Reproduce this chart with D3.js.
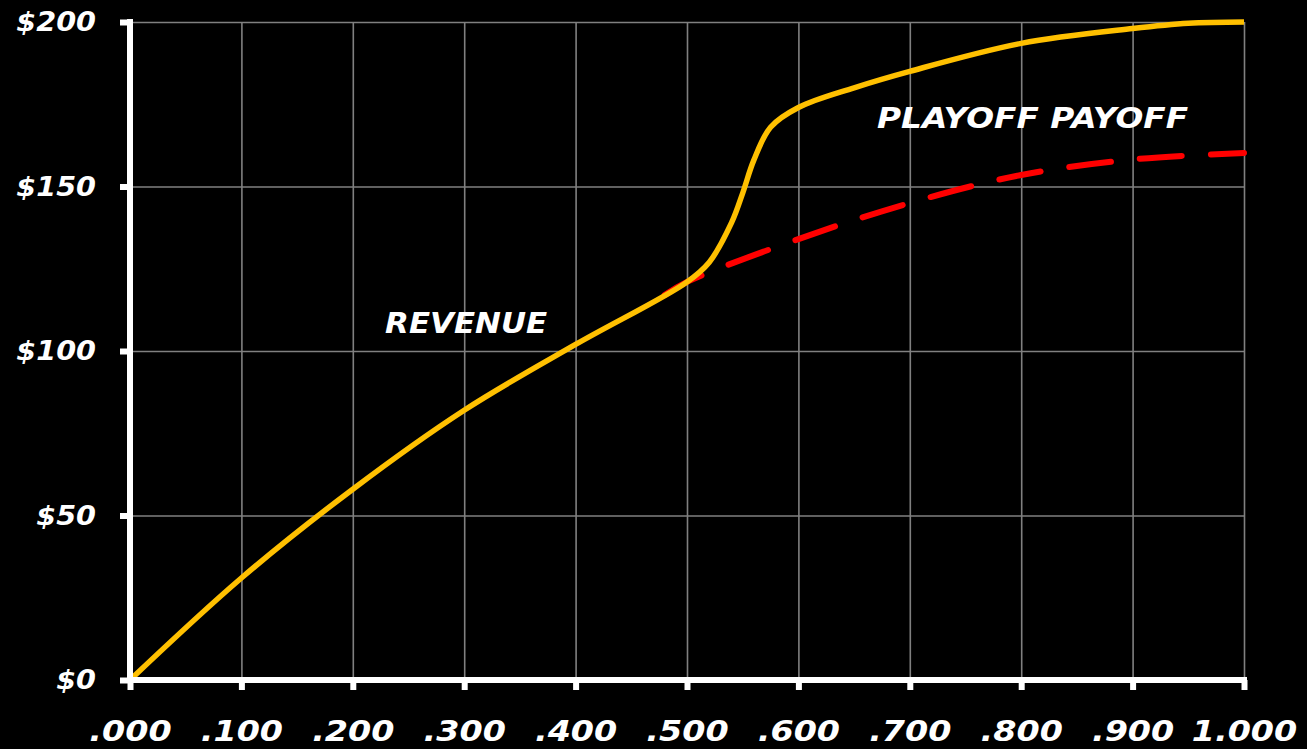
<!DOCTYPE html>
<html>
<head>
<meta charset="utf-8">
<script src="https://cdn.jsdelivr.net/npm/d3@7"></script>
<style>
  html, body { margin: 0; padding: 0; background: #000; }
  svg text { font-family: "DejaVu Sans", sans-serif; font-weight: bold; font-style: italic; fill: #fff; }
</style>
</head>
<body>
<div id="chart"></div>
<script>
// x positions (win pct) and values ($)
const revenueX = [0, 0.1, 0.2, 0.3, 0.4, 0.5, 0.52, 0.54, 0.55, 0.56, 0.575, 0.6, 0.65, 0.7, 0.8, 0.9, 0.95, 1.0];
const revenueY = [0, 31, 58, 82, 102, 121, 127, 139, 148, 158, 168, 174, 180, 185, 193.5, 198, 199.6, 200];

const baseX = [0.48, 0.5, 0.6, 0.7, 0.8, 0.9, 1.0];
const baseY = [117, 121, 134, 145, 153.5, 158.2, 160.2];

const xTicks = [0, 0.1, 0.2, 0.3, 0.4, 0.5, 0.6, 0.7, 0.8, 0.9, 1.0];
const yTicks = [0, 50, 100, 150, 200];

const width = 1307, height = 749;
const margin = {top: 22, right: 63, bottom: 69, left: 130};

const svg = d3.select('#chart')
    .append('svg')
        .attr('width', width)
        .attr('height', height);

const x = d3.scaleLinear()
    .domain([0, 1])
    .range([margin.left, width - margin.right]);

const y = d3.scaleLinear()
    .domain([0, 200])
    .range([height - margin.bottom, margin.top]);

//stretch text to look like the wide heavy face of the original
function widen(sel, f) {
    sel.each(function() {
        let w = this.getComputedTextLength();
        d3.select(this)
            .attr('textLength', w * f)
            .attr('lengthAdjust', 'spacingAndGlyphs');
    });
}

//gridlines
svg.append('g')
    .attr('transform', `translate(0, ${height - margin.bottom})`)
    .call(d3.axisBottom(x).tickValues(xTicks.slice(1)).tickSize(-(height - margin.bottom - margin.top)).tickFormat(''))
    .call(g => g.select('.domain').remove())
    .call(g => g.selectAll('line').attr('stroke', '#808080').attr('stroke-width', 1.6));

svg.append('g')
    .attr('transform', `translate(${margin.left}, 0)`)
    .call(d3.axisLeft(y).tickValues(yTicks.slice(1)).tickSize(-(width - margin.left - margin.right)).tickFormat(''))
    .call(g => g.select('.domain').remove())
    .call(g => g.selectAll('line').attr('stroke', '#808080').attr('stroke-width', 1.6));

//lines
const line = d3.line()
    .x(d => x(d[0]))
    .y(d => y(d[1]))
    .curve(d3.curveCatmullRom.alpha(0.5));

svg.append('path')
    .datum(baseX.map((v, i) => [v, baseY[i]]))
    .attr('d', line)
    .attr('fill', 'none')
    .attr('stroke', '#ff0000')
    .attr('stroke-width', 6)
    .attr('stroke-linecap', 'round')
    .attr('stroke-dasharray', '42 29');

svg.append('path')
    .datum(revenueX.map((v, i) => [v, revenueY[i]]))
    .attr('d', line)
    .attr('fill', 'none')
    .attr('stroke', '#ffc000')
    .attr('stroke-width', 5.5)
    .attr('stroke-linejoin', 'round');

//axes
const fmtX = d => d === 1 ? '1.000' : d3.format('.3f')(d).replace(/^0/, '');

svg.append('g')
    .attr('transform', `translate(0, ${height - margin.bottom})`)
    .call(d3.axisBottom(x).tickValues(xTicks).tickSize(10).tickPadding(30).tickFormat(fmtX))
    .call(g => g.select('.domain').attr('stroke', '#fff').attr('stroke-width', 6).attr('d', `M${margin.left - 3},0H${width - margin.right + 3}`))
    .call(g => g.selectAll('line').attr('stroke', '#fff').attr('stroke-width', 6))
    .call(g => g.selectAll('text').attr('font-size', 29).attr('dy', '0.71em').attr('fill', '#fff').call(widen, 1.15));

svg.append('g')
    .attr('transform', `translate(${margin.left}, 0)`)
    .call(d3.axisLeft(y).tickValues(yTicks).tickSize(10).tickPadding(24).tickFormat(d => '$' + d))
    .call(g => g.select('.domain').attr('stroke', '#fff').attr('stroke-width', 6).attr('d', `M0,${margin.top - 3}V${height - margin.bottom + 3}`))
    .call(g => g.selectAll('line').attr('stroke', '#fff').attr('stroke-width', 6))
    .call(g => g.selectAll('text').attr('font-size', 27).attr('fill', '#fff').call(widen, 1.06));

//labels
svg.append('text')
    .attr('x', x(0.229))
    .attr('y', y(105.5))
    .attr('font-size', 29)
    .attr('textLength', 162)
    .attr('lengthAdjust', 'spacingAndGlyphs')
    .text('REVENUE');

svg.append('text')
    .attr('x', x(0.6706))
    .attr('y', y(167.8))
    .attr('font-size', 29)
    .attr('textLength', 311)
    .attr('lengthAdjust', 'spacingAndGlyphs')
    .text('PLAYOFF PAYOFF');
</script>
</body>
</html>
